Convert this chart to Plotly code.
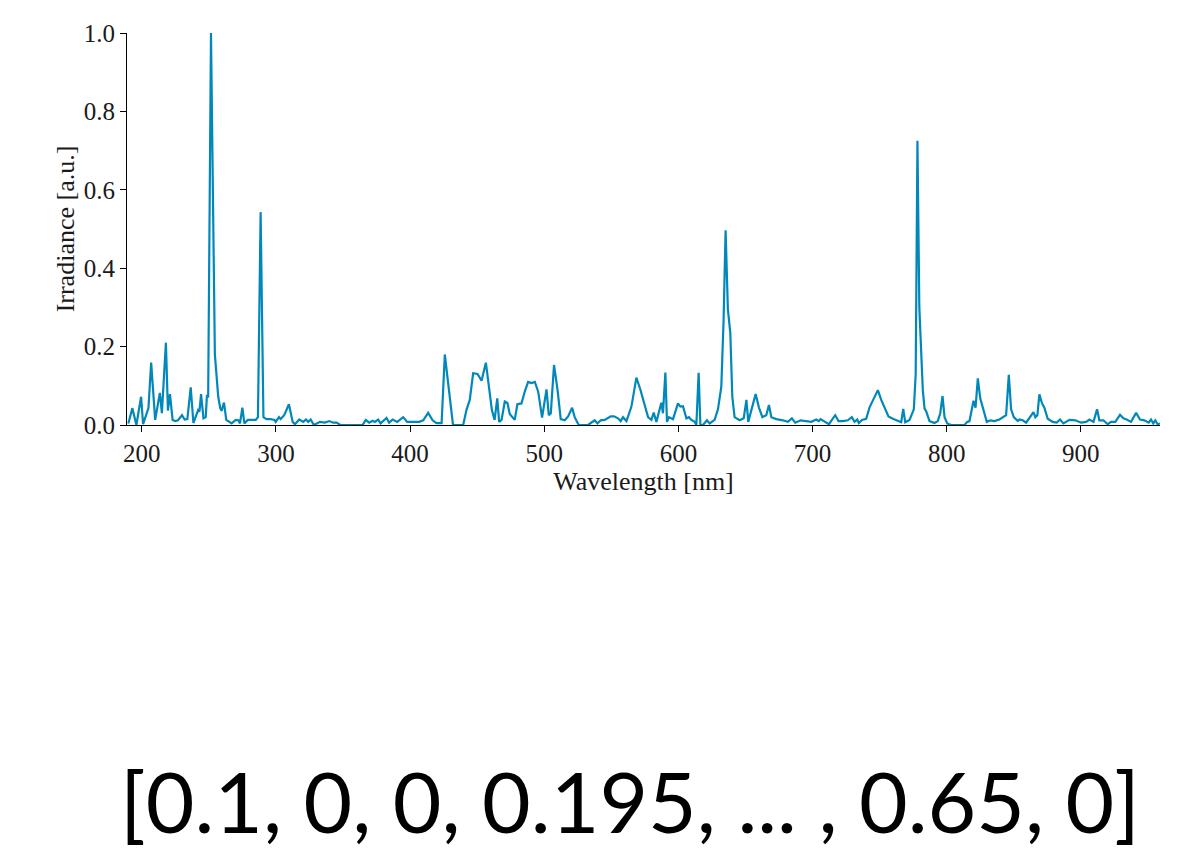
import plotly.graph_objects as go

wavelength = [
    190.0, 193.0, 196.0, 199.5, 201.0, 205.0, 207.0, 210.0, 213.5, 215.0,
    218.0, 219.5, 221.0, 223.0, 225.0, 227.0, 230.0, 232.0, 234.0, 236.5,
    238.5, 242.0, 243.0, 244.2, 246.0, 247.7, 248.6, 249.5, 251.6, 254.5,
    257.0, 258.5, 259.5, 261.3, 263.0, 265.0, 267.0, 270.0, 272.0, 273.2,
    275.0, 276.5, 279.0, 282.0, 285.0, 286.6, 288.6, 290.7, 293.0, 296.0,
    299.0, 299.8, 302.3, 303.5, 306.2, 309.7, 311.7, 312.5, 314.2, 317.4,
    320.4, 322.4, 324.1, 325.9, 328.3, 332.8, 336.5, 339.8, 342.7, 345.2,
    348.0, 364.6, 367.0, 369.5, 372.1, 373.8, 376.2, 378.0, 382.5, 384.4,
    387.0, 390.4, 394.9, 397.8, 402.3, 406.8, 409.8, 413.5, 416.8, 419.7,
    423.5, 425.9, 429.0, 432.0, 439.6, 442.0, 444.5, 447.0, 450.3, 453.3,
    456.5, 458.7, 461.0, 463.0, 465.0, 466.4, 468.2, 470.6, 472.6, 474.3,
    478.0, 480.0, 483.0, 485.5, 488.0, 490.5, 493.0, 495.5, 498.4, 501.7,
    503.4, 504.9, 507.3, 509.9, 512.3, 515.3, 517.8, 520.8, 522.7, 525.7,
    532.7, 537.6, 539.7, 542.1, 545.1, 549.6, 552.0, 555.0, 557.0, 558.7,
    561.3, 565.0, 568.7, 571.7, 574.0, 577.4, 579.9, 581.6, 583.6, 587.3,
    588.5, 590.3, 591.5, 593.0, 596.0, 599.7, 601.5, 603.4, 606.0, 607.9,
    609.7, 612.2, 613.4, 615.1, 616.4, 618.3, 621.3, 623.3, 627.0, 629.5,
    632.0, 633.7, 635.2, 636.9, 638.7, 640.2, 641.9, 645.6, 648.7, 650.7,
    652.1, 654.4, 657.6, 660.0, 662.6, 665.5, 667.5, 669.3, 673.0, 677.9,
    681.6, 684.6, 687.1, 691.1, 695.3, 699.1, 702.8, 704.7, 706.0, 709.0,
    712.2, 716.9, 719.4, 722.6, 726.3, 729.3, 731.3, 733.3, 734.5, 736.8,
    740.0, 742.5, 745.0, 748.7, 751.2, 753.7, 756.6, 759.9, 763.6, 766.1,
    767.6, 769.1, 772.3, 775.5, 776.9, 778.2, 779.6, 782.2, 783.5, 784.7,
    787.2, 790.9, 793.4, 795.2, 796.9, 798.4, 800.4, 803.4, 813.3, 815.3,
    817.0, 820.0, 821.5, 823.2, 825.0, 827.4, 829.9, 832.4, 835.6, 839.3,
    842.3, 844.3, 846.3, 848.0, 850.0, 853.0, 854.2, 856.7, 859.2, 862.2,
    864.7, 866.1, 867.6, 869.1, 871.1, 872.8, 875.3, 879.0, 882.0, 884.5,
    887.0, 891.5, 895.9, 900.2, 903.9, 906.4, 909.4, 912.1, 913.8, 916.8,
    920.0, 922.5, 925.7, 929.2, 931.7, 934.1, 937.4, 941.2, 944.1, 947.3,
    950.6, 952.3, 954.0, 955.5, 957.2, 959.0,
]

irradiance = [
    0.004, 0.043, 0.000, 0.072, 0.002, 0.043, 0.159, 0.013, 0.082, 0.030,
    0.210, 0.037, 0.079, 0.013, 0.010, 0.012, 0.025, 0.014, 0.015, 0.096,
    0.005, 0.038, 0.034, 0.079, 0.017, 0.020, 0.077, 0.070, 1.000, 0.180,
    0.072, 0.043, 0.036, 0.057, 0.013, 0.008, 0.004, 0.013, 0.012, 0.004,
    0.044, 0.004, 0.013, 0.013, 0.013, 0.020, 0.543, 0.020, 0.015, 0.015,
    0.013, 0.008, 0.020, 0.015, 0.025, 0.053, 0.013, 0.008, 0.002, 0.014,
    0.008, 0.014, 0.008, 0.014, 0.000, 0.008, 0.006, 0.010, 0.006, 0.006,
    0.000, 0.000, 0.013, 0.006, 0.011, 0.008, 0.014, 0.004, 0.018, 0.006,
    0.014, 0.008, 0.020, 0.008, 0.008, 0.008, 0.012, 0.031, 0.012, 0.005,
    0.005, 0.180, 0.089, 0.000, 0.000, 0.038, 0.064, 0.132, 0.130, 0.113,
    0.159, 0.102, 0.038, 0.013, 0.068, 0.008, 0.013, 0.060, 0.056, 0.028,
    0.013, 0.053, 0.055, 0.085, 0.110, 0.107, 0.110, 0.085, 0.019, 0.091,
    0.025, 0.030, 0.153, 0.090, 0.015, 0.012, 0.022, 0.044, 0.020, 0.000,
    0.000, 0.012, 0.004, 0.012, 0.013, 0.022, 0.022, 0.017, 0.010, 0.020,
    0.010, 0.047, 0.121, 0.090, 0.064, 0.020, 0.013, 0.032, 0.008, 0.057,
    0.030, 0.134, 0.008, 0.020, 0.015, 0.055, 0.047, 0.048, 0.017, 0.020,
    0.013, 0.008, 0.000, 0.133, 0.000, 0.000, 0.012, 0.004, 0.013, 0.040,
    0.098, 0.268, 0.497, 0.295, 0.235, 0.072, 0.020, 0.012, 0.017, 0.064,
    0.008, 0.038, 0.079, 0.045, 0.020, 0.025, 0.051, 0.020, 0.015, 0.012,
    0.008, 0.017, 0.006, 0.012, 0.010, 0.008, 0.014, 0.010, 0.015, 0.008,
    0.002, 0.025, 0.010, 0.010, 0.012, 0.020, 0.008, 0.014, 0.005, 0.013,
    0.016, 0.045, 0.064, 0.089, 0.064, 0.043, 0.022, 0.016, 0.010, 0.007,
    0.041, 0.007, 0.013, 0.040, 0.130, 0.725, 0.300, 0.089, 0.042, 0.035,
    0.010, 0.005, 0.010, 0.030, 0.074, 0.020, 0.004, 0.000, 0.000, 0.008,
    0.010, 0.062, 0.044, 0.119, 0.068, 0.040, 0.008, 0.012, 0.010, 0.014,
    0.020, 0.025, 0.128, 0.040, 0.020, 0.010, 0.014, 0.012, 0.006, 0.020,
    0.033, 0.020, 0.025, 0.078, 0.055, 0.044, 0.016, 0.008, 0.006, 0.014,
    0.004, 0.013, 0.012, 0.006, 0.008, 0.014, 0.008, 0.040, 0.012, 0.012,
    0.002, 0.008, 0.008, 0.026, 0.017, 0.014, 0.008, 0.031, 0.014, 0.012,
    0.006, 0.014, 0.004, 0.012, 0.002, 0.004,
]

x_ticks = [200, 300, 400, 500, 600, 700, 800, 900]
y_ticks = [0.0, 0.2, 0.4, 0.6, 0.8, 1.0]
y_tick_labels = ["0.0", "0.2", "0.4", "0.6", "0.8", "1.0"]
caption = "[0.1, 0, 0, 0.195, ... , 0.65, 0]"

serif = "Liberation Serif, DejaVu Serif, serif"

fig = go.Figure()
fig.add_trace(go.Scatter(
    x=wavelength, y=irradiance, mode="lines",
    line=dict(color="#0088bb", width=2.2), showlegend=False,
))

fig.update_layout(
    width=1188, height=855,
    margin=dict(l=119, r=36, t=25, b=438, autoexpand=False),
    paper_bgcolor="white", plot_bgcolor="white",
    font=dict(family=serif, size=25, color="#1a1a1a"),
)
fig.update_xaxes(
    range=[189, 959], tickvals=x_ticks, ticks="outside", ticklen=6,
    tickcolor="black", showline=True, linecolor="black", linewidth=1,
    showgrid=False, zeroline=False, mirror=False,
    title=dict(text="Wavelength [nm]", standoff=2, font=dict(size=26)),
    tickfont=dict(size=25),
)
fig.update_yaxes(
    range=[0, 1.0], tickvals=y_ticks, ticktext=y_tick_labels, ticks="outside",
    ticklen=6, tickcolor="black", showline=True, linecolor="black",
    linewidth=1, showgrid=False, zeroline=False,
    title=dict(text="Irradiance [a.u.]", standoff=1, font=dict(size=26)),
    tickfont=dict(size=25),
)
fig.add_annotation(
    text=caption, xref="paper", yref="paper", x=0.487, y=-0.957,
    xanchor="center", yanchor="middle", showarrow=False,
    font=dict(family="Lato, Noto Sans, sans-serif", size=84, color="black"),
)

fig.write_html("out.html")
